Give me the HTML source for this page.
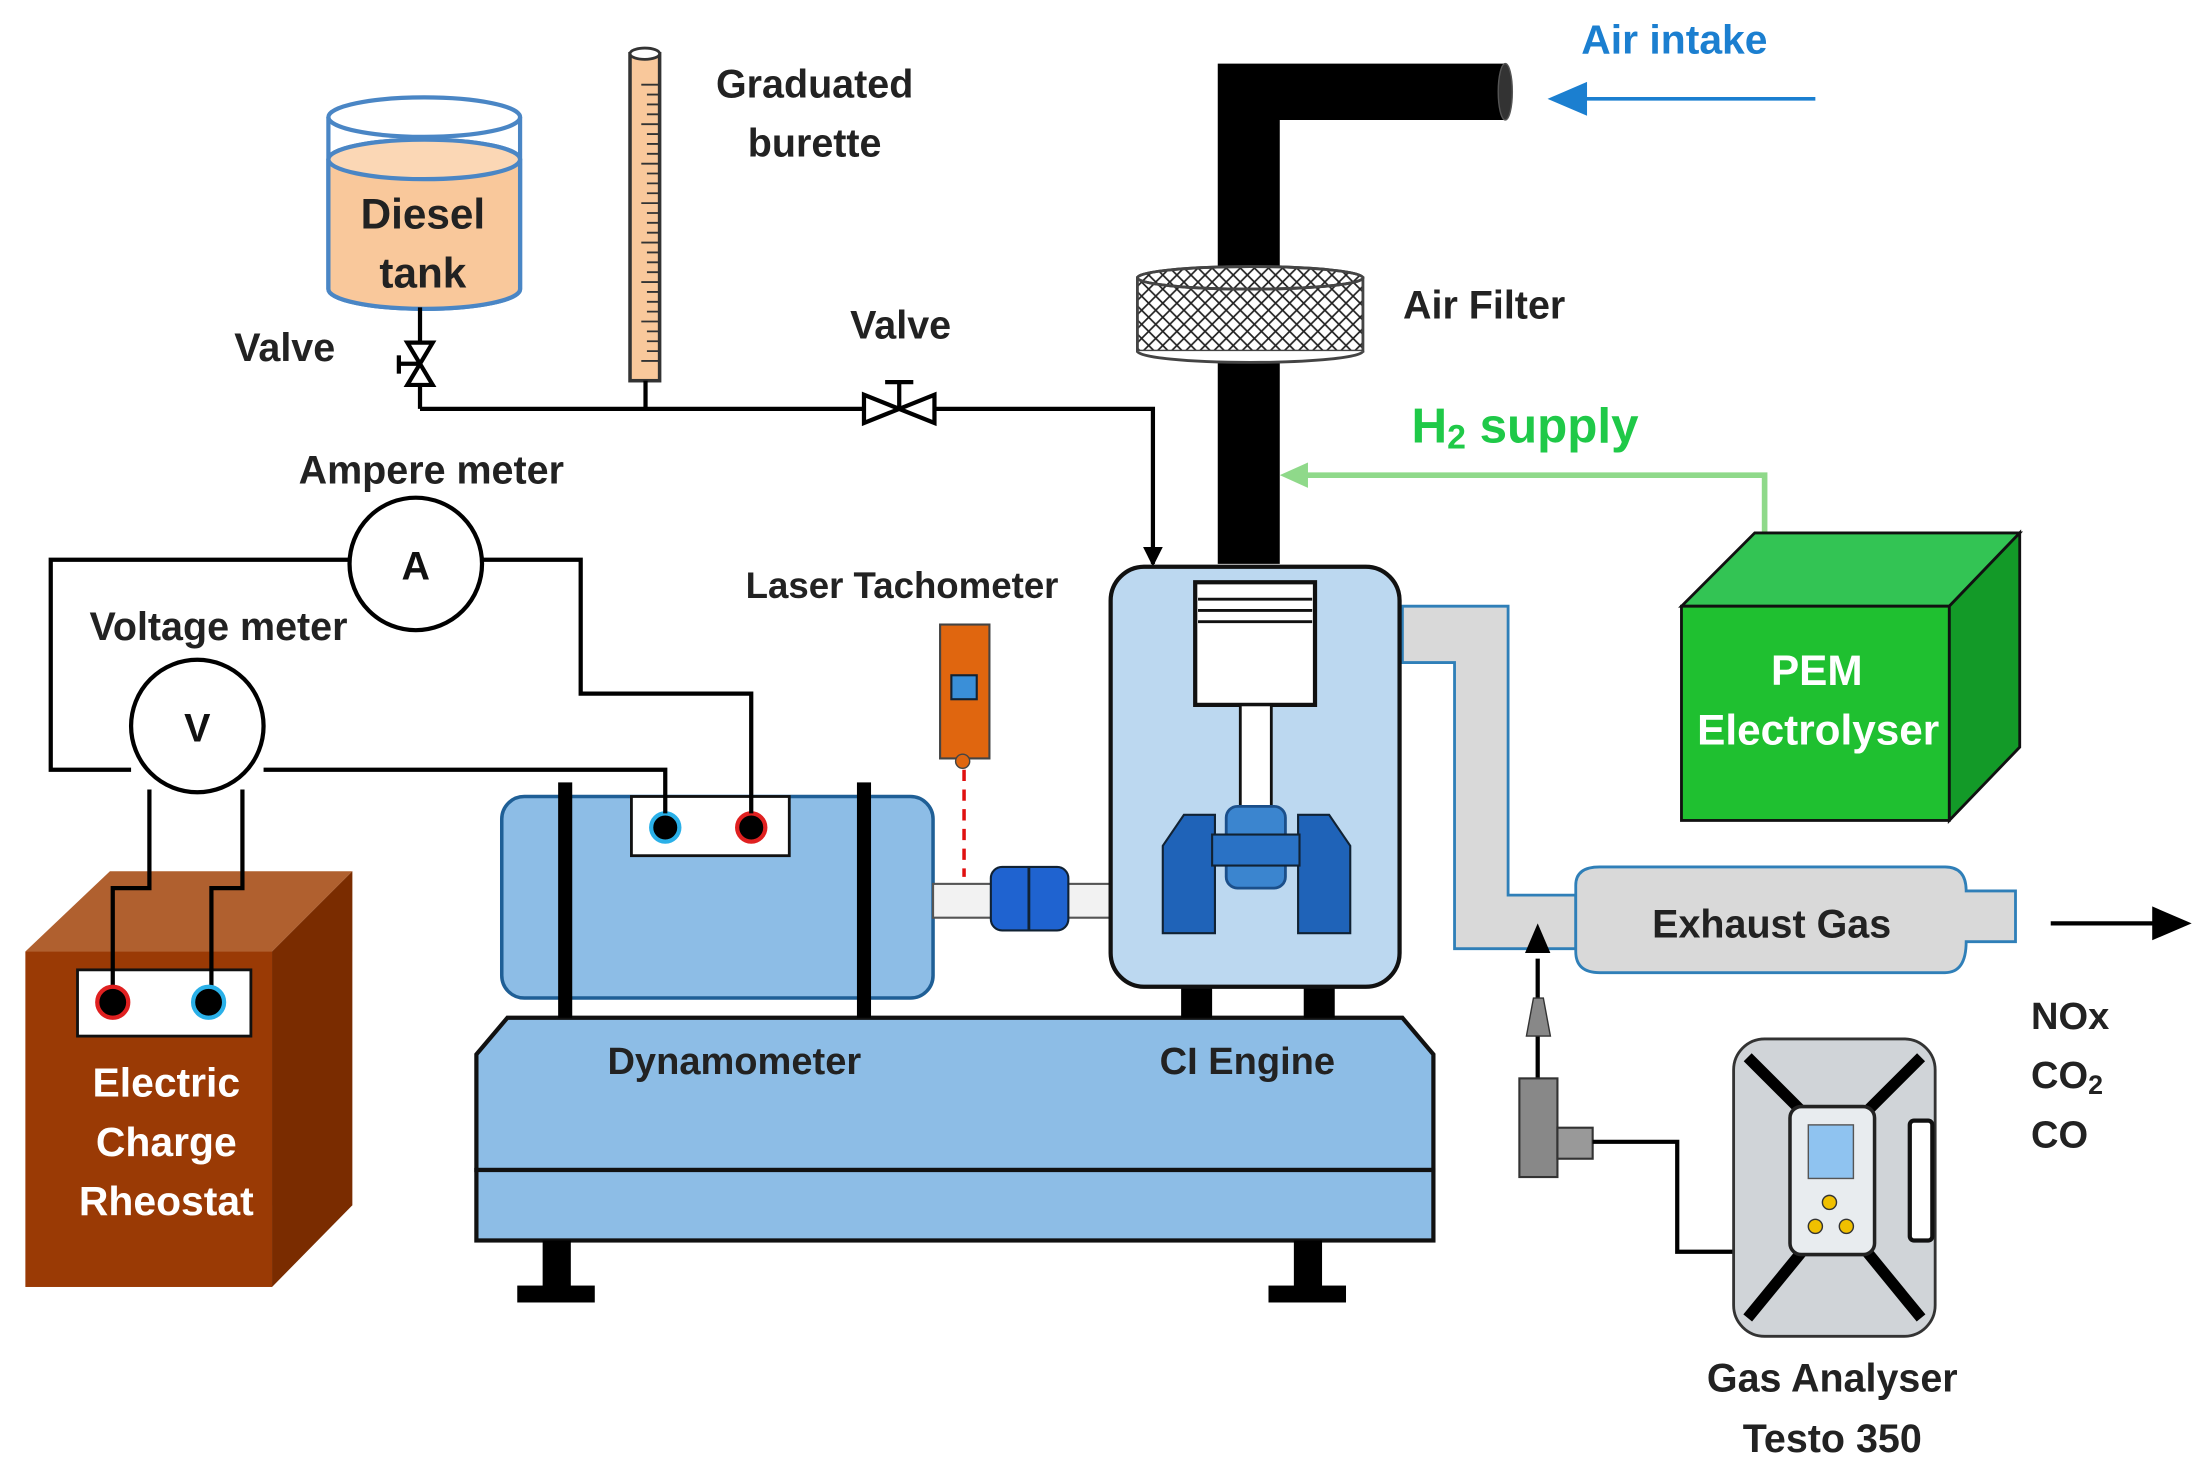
<!DOCTYPE html>
<html><head><meta charset="utf-8"><style>
html,body{margin:0;padding:0;background:#fff;}
svg{display:block}
text{font-family:"Liberation Sans",sans-serif;font-weight:bold;}
</style></head><body>
<svg width="2210" height="1476" viewBox="0 0 1568 1047" xmlns="http://www.w3.org/2000/svg">
<defs>
<pattern id="hatch" width="10" height="10" patternUnits="userSpaceOnUse">
<path d="M0 0L10 10M10 0L0 10" stroke="#222" stroke-width="1.2"/>
</pattern>
<marker id="ab" markerUnits="userSpaceOnUse" markerWidth="14" markerHeight="14" refX="12" refY="7" orient="auto"><path d="M0 0L14 7L0 14z" fill="#000"/></marker>
</defs>
<rect width="1568" height="1047" fill="#fff"/>

<!-- Diesel tank -->
<path d="M233 83 L233 205 A68 14 0 0 0 369 205 L369 83" fill="#fff" stroke="#4a86c5" stroke-width="3"/>
<path d="M233 113 L233 205 A68 14 0 0 0 369 205 L369 113 A68 14 0 0 0 233 113z" fill="#f9c89b" stroke="#4a86c5" stroke-width="3"/>
<ellipse cx="301" cy="113" rx="68" ry="14" fill="#fbd7b5" stroke="#4a86c5" stroke-width="3"/>
<ellipse cx="301" cy="83" rx="68" ry="14" fill="none" stroke="#4a86c5" stroke-width="3"/>
<text x="300" y="162" font-size="30" text-anchor="middle" fill="#222">Diesel</text>
<text x="300" y="204" font-size="30" text-anchor="middle" fill="#222">tank</text>

<!-- valve vertical -->
<line x1="298" y1="218" x2="298" y2="290" stroke="#000" stroke-width="3"/>
<path d="M289 243 L307 243 L289 273 L307 273 z" fill="#fff" stroke="#000" stroke-width="3"/>
<line x1="283" y1="252" x2="283" y2="265" stroke="#000" stroke-width="3"/><line x1="283" y1="258" x2="298" y2="258" stroke="#000" stroke-width="3"/>
<text x="202" y="256" font-size="28" text-anchor="middle" fill="#222">Valve</text>

<!-- burette -->
<rect x="447" y="38" width="21" height="232" fill="#f9c89b" stroke="#333" stroke-width="2.5"/>
<ellipse cx="457.5" cy="38" rx="10.5" ry="4" fill="#fff" stroke="#333" stroke-width="2"/>
<g stroke="#333" stroke-width="1.3">
<path d="M455 60h13M459 67h9M459 74h9M459 81h9M455 88h13M459 95h9M459 102h9M459 109h9M455 116h13M459 123h9M459 130h9M459 137h9M455 144h13M459 151h9M459 158h9M459 165h9M455 172h13M459 179h9M459 186h9M459 193h9M455 200h13M459 207h9M459 214h9M459 221h9M455 228h13M459 235h9M459 242h9M459 249h9M455 256h13"/>
</g>
<text x="578" y="69" font-size="28" text-anchor="middle" fill="#222">Graduated</text>
<text x="578" y="111" font-size="28" text-anchor="middle" fill="#222">burette</text>

<!-- fuel line -->
<polyline points="298,290 818,290 818,400" fill="none" stroke="#000" stroke-width="3" marker-end="url(#ab)"/>
<line x1="458" y1="270" x2="458" y2="290" stroke="#000" stroke-width="3"/>
<path d="M613 280 L613 300 L663 280 L663 300 z" fill="#fff" stroke="#000" stroke-width="3"/>
<line x1="638" y1="290" x2="638" y2="271" stroke="#000" stroke-width="3"/><line x1="628" y1="271" x2="648" y2="271" stroke="#000" stroke-width="3"/>
<text x="639" y="240" font-size="28" text-anchor="middle" fill="#222">Valve</text>

<!-- air intake pipe -->
<path d="M864 400 L864 45 L1068 45 L1068 85 L908 85 L908 400z" fill="#000"/>
<ellipse cx="1068" cy="65" rx="5" ry="20" fill="#333" stroke="#555"/>
<rect x="807" y="197" width="160" height="52" fill="#fff"/>
<rect x="807" y="197" width="160" height="52" fill="url(#hatch)" stroke="#444" stroke-width="2"/>
<ellipse cx="887" cy="197" rx="80" ry="8" fill="#fff" stroke="#444" stroke-width="2"/>
<ellipse cx="887" cy="197" rx="80" ry="8" fill="url(#hatch)" stroke="#444" stroke-width="2"/>
<path d="M807 249 A80 8 0 0 0 967 249" fill="#fff" stroke="#444" stroke-width="2"/>
<text x="1053" y="226" font-size="28" text-anchor="middle" fill="#222">Air Filter</text>
<text x="1188" y="38" font-size="29" text-anchor="middle" fill="#1b7fd0">Air intake</text>
<line x1="1288" y1="70" x2="1120" y2="70" stroke="#1b7fd0" stroke-width="2.5"/>
<path d="M1098 70 L1126 58 L1126 82z" fill="#1b7fd0"/>

<!-- H2 -->
<text x="1082" y="314" font-size="35" text-anchor="middle" fill="#1fc948">H<tspan font-size="24" dy="4">2</tspan><tspan dy="-4"> supply</tspan></text>
<polyline points="1252,378 1252,337 925,337" fill="none" stroke="#8fd98a" stroke-width="4"/>
<path d="M908 337 L928 328 L928 346z" fill="#8fd98a"/>

<!-- PEM -->
<path d="M1193 430 L1245 378 L1433 378 L1383 430z" fill="#33c454" stroke="#111" stroke-width="2"/>
<path d="M1383 430 L1433 378 L1433 530 L1383 582z" fill="#139a28" stroke="#111" stroke-width="2"/>
<rect x="1193" y="430" width="190" height="152" fill="#1fc030" stroke="#111" stroke-width="2"/>
<text x="1289" y="486" font-size="30" text-anchor="middle" fill="#fff">PEM</text>
<text x="1290" y="528" font-size="30" text-anchor="middle" fill="#fff">Electrolyser</text>

<!-- exhaust pipe -->
<path d="M995 430 L1070 430 L1070 635 L1118 635 L1118 673 L1032 673 L1032 470 L995 470z" fill="#d9d9d9" stroke="#2f7fb8" stroke-width="2"/>
<path d="M1118 628 Q1118 615 1135 615 L1380 615 Q1395 615 1395 632 L1430 632 L1430 668 L1395 668 Q1395 690 1380 690 L1135 690 Q1118 690 1118 675z" fill="#d9d9d9" stroke="#2f7fb8" stroke-width="2"/>
<text x="1257" y="665" font-size="28" text-anchor="middle" fill="#222">Exhaust Gas</text>
<line x1="1455" y1="655" x2="1530" y2="655" stroke="#000" stroke-width="3"/>
<path d="M1555 655 L1527 643 L1527 667z" fill="#000"/>
<text x="1441" y="730" font-size="27" fill="#222">NOx</text>
<text x="1441" y="772" font-size="27" fill="#222">CO<tspan font-size="19" dy="4">2</tspan></text>
<text x="1441" y="814" font-size="27" fill="#222">CO</text>

<!-- base -->
<path d="M338 830 L338 748 L360 722 L995 722 L1017 748 L1017 830z" fill="#8dbde6" stroke="#111" stroke-width="3"/>
<rect x="338" y="830" width="679" height="50" fill="#8dbde6" stroke="#111" stroke-width="3"/>
<rect x="385" y="880" width="20" height="35" fill="#000"/><rect x="367" y="912" width="55" height="12" fill="#000"/>
<rect x="918" y="880" width="20" height="35" fill="#000"/><rect x="900" y="912" width="55" height="12" fill="#000"/>
<rect x="838" y="700" width="22" height="22" fill="#000"/><rect x="925" y="700" width="22" height="22" fill="#000"/>
<text x="521" y="762" font-size="27" text-anchor="middle" fill="#222">Dynamometer</text>
<text x="885" y="762" font-size="27" text-anchor="middle" fill="#222">CI Engine</text>

<!-- dynamometer -->
<rect x="356" y="565" width="306" height="143" rx="16" fill="#8dbde6" stroke="#1f5f96" stroke-width="2.5"/>
<rect x="396" y="555" width="10" height="167" fill="#000"/>
<rect x="608" y="555" width="10" height="167" fill="#000"/>
<rect x="448" y="565" width="112" height="42" fill="#fff" stroke="#111" stroke-width="2"/>
<circle cx="472" cy="587" r="10" fill="#000" stroke="#2ab0e8" stroke-width="3"/>
<circle cx="533" cy="587" r="10" fill="#000" stroke="#e02020" stroke-width="3"/>
<rect x="662" y="627" width="126" height="24" fill="#f2f2f2" stroke="#555" stroke-width="1.5"/>
<rect x="703" y="615" width="55" height="45" rx="8" fill="#1f63d0" stroke="#123" stroke-width="1.5"/>
<line x1="730" y1="615" x2="730" y2="660" stroke="#123" stroke-width="2"/>

<!-- tachometer -->
<rect x="667" y="443" width="35" height="95" fill="#e0660f" stroke="#444" stroke-width="1.5"/>
<rect x="675" y="479" width="18" height="17" fill="#3a8fd8" stroke="#123" stroke-width="1.5"/>
<circle cx="683" cy="540" r="5" fill="#e0660f" stroke="#444"/>
<line x1="684" y1="546" x2="684" y2="622" stroke="#e01010" stroke-width="2.5" stroke-dasharray="8,6"/>
<text x="640" y="424" font-size="26" text-anchor="middle" fill="#222">Laser Tachometer</text>

<!-- engine -->
<rect x="788" y="402" width="205" height="298" rx="24" fill="#bcd8f0" stroke="#111" stroke-width="3"/>
<rect x="848" y="413" width="85" height="87" fill="#fff" stroke="#111" stroke-width="3"/>
<path d="M850 425h81M850 433h81M850 441h81" stroke="#111" stroke-width="2"/>
<rect x="880" y="500" width="22" height="80" fill="#fff" stroke="#111" stroke-width="2"/>
<rect x="870" y="572" width="42" height="58" rx="8" fill="#3b85cf" stroke="#1b4f8a" stroke-width="2"/>
<path d="M825 600 L840 578 L862 578 L862 662 L825 662z" fill="#1f63b8" stroke="#123" stroke-width="1.5"/>
<path d="M958 600 L943 578 L921 578 L921 662 L958 662z" fill="#1f63b8" stroke="#123" stroke-width="1.5"/>
<rect x="860" y="592" width="62" height="22" fill="#2a72c5" stroke="#123" stroke-width="1.5"/>

<!-- rheostat -->
<path d="M18 675 L78 618 L250 618 L193 675z" fill="#b0602f"/>
<path d="M193 675 L250 618 L250 855 L193 913z" fill="#7a2c00"/>
<rect x="18" y="675" width="175" height="238" fill="#9a3a05"/>
<rect x="55" y="688" width="123" height="47" fill="#fff" stroke="#111" stroke-width="2"/>

<!-- circuit -->
<g fill="none" stroke="#000" stroke-width="3">
<polyline points="248,397 36,397 36,546 93,546"/>
<polyline points="187,546 472,546 472,577"/>
<polyline points="342,397 412,397 412,492 533,492 533,577"/>
<polyline points="106,560 106,630 80,630 80,700"/>
<polyline points="172,560 172,630 150,630 150,700"/>
</g>
<circle cx="80" cy="711" r="11" fill="#000" stroke="#e02020" stroke-width="3"/>
<circle cx="148" cy="711" r="11" fill="#000" stroke="#2ab0e8" stroke-width="3"/>
<text x="118" y="778" font-size="29" text-anchor="middle" fill="#fff">Electric</text>
<text x="118" y="820" font-size="29" text-anchor="middle" fill="#fff">Charge</text>
<text x="118" y="862" font-size="29" text-anchor="middle" fill="#fff">Rheostat</text>
<circle cx="295" cy="400" r="47" fill="#fff" stroke="#000" stroke-width="3"/>
<text x="295" y="411" font-size="28" text-anchor="middle" fill="#111">A</text>
<circle cx="140" cy="515" r="47" fill="#fff" stroke="#000" stroke-width="3"/>
<text x="140" y="526" font-size="28" text-anchor="middle" fill="#111">V</text>
<text x="306" y="343" font-size="28" text-anchor="middle" fill="#222">Ampere meter</text>
<text x="155" y="454" font-size="28" text-anchor="middle" fill="#222">Voltage meter</text>

<!-- probe -->
<line x1="1091" y1="765" x2="1091" y2="680" stroke="#000" stroke-width="3"/>
<path d="M1091 655 L1082 676 L1100 676z" fill="#000"/>
<path d="M1083 735 L1088 708 L1095 708 L1100 735z" fill="#888" stroke="#333"/>
<rect x="1078" y="765" width="27" height="70" fill="#888" stroke="#333" stroke-width="1.5"/>
<rect x="1105" y="800" width="25" height="22" fill="#999" stroke="#333" stroke-width="1.5"/>
<polyline points="1130,810 1190,810 1190,888 1232,888" fill="none" stroke="#000" stroke-width="3"/>

<!-- gas analyser -->
<rect x="1230" y="737" width="143" height="211" rx="22" fill="#d0d4d8" stroke="#333" stroke-width="2"/>
<path d="M1240 750 L1285 795 M1363 750 L1318 795 M1240 935 L1285 880 M1363 935 L1318 880" stroke="#000" stroke-width="8"/>
<rect x="1270" y="785" width="60" height="105" rx="8" fill="#e8ecef" stroke="#222" stroke-width="2.5"/>
<rect x="1283" y="798" width="32" height="38" fill="#8fc3f0" stroke="#555"/>
<circle cx="1298" cy="853" r="5" fill="#f0c000" stroke="#333"/>
<circle cx="1288" cy="870" r="5" fill="#f0c000" stroke="#333"/>
<circle cx="1310" cy="870" r="5" fill="#f0c000" stroke="#333"/>
<rect x="1355" y="795" width="16" height="85" rx="3" fill="#fff" stroke="#111" stroke-width="3"/>
<text x="1300" y="987" font-size="28" text-anchor="middle" fill="#222">Gas Analyser</text>
<text x="1300" y="1030" font-size="28" text-anchor="middle" fill="#222">Testo 350</text>
</svg>
</body></html>
